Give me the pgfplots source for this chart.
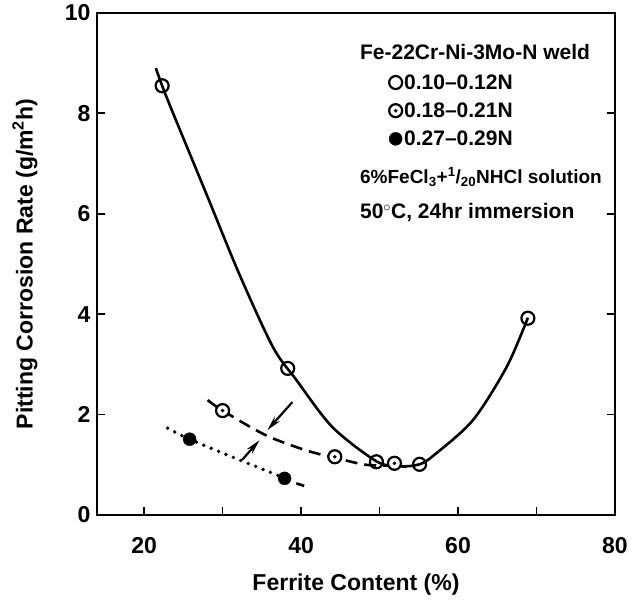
\documentclass[border=0pt]{standalone}
\usepackage{pgfplots}
\pgfplotsset{compat=1.18}
\usetikzlibrary{arrows.meta}
\usepackage{fontspec}
\setmainfont{Liberation Sans}
\pgfdeclareplotmark{odot}{%
  \pgfpathcircle{\pgfpointorigin}{\pgfplotmarksize}\pgfusepathqfillstroke
  \begin{pgfscope}%
  \pgfsetfillcolor{black}%
  \pgfpathcircle{\pgfpointorigin}{0.3\pgfplotmarksize}\pgfusepathqfill
  \end{pgfscope}}
\begin{document}
\bfseries
\begin{tikzpicture}
\begin{axis}[
  at={(0,0)}, anchor=south west,
  scale only axis, width=518pt, height=502pt,
  xmin=14, xmax=80, ymin=0, ymax=10,
  xtick={20,40,60,80}, minor xtick={30,50,70},
  ytick={0,2,4,6,8,10},
  xtick pos=bottom, ytick pos=both,
  tick align=inside,
  major tick length=8pt, minor tick length=8pt,
  every tick/.style={line width=1.8pt, black},
  axis line style={line width=2.4pt},
  /pgf/number format/assume math mode=true,
  tick label style={font=\fontsize{23}{27}\selectfont\bfseries},
  xticklabel style={yshift=-19pt},
  yticklabel style={xshift=-3pt},
  label style={font=\fontsize{23}{27}\selectfont\bfseries},
  xlabel={Ferrite Content (\%)},
  ylabel={Pitting Corrosion Rate (g/m$^{\mathbf{2}}$h)},
  xlabel style={at={(axis description cs:0.5,-0.138)}, anchor=center},
  ylabel style={at={(axis description cs:-0.139,0.5)}, anchor=center},
  legend style={draw=none, fill=none, at={(axis cs:51.2,8.82)}, anchor=north west,
    font=\fontsize{21}{25}\selectfont\bfseries, row sep=8pt, inner sep=0pt,
    /tikz/every even column/.append style={column sep=9pt}},
  legend cell align=left,
  clip=false,
]
% solid curve (0.10-0.12N)
\addplot[black, line width=2.6pt, smooth, forget plot] coordinates {
 (21.5,8.9) (23.0,8.27) (27.9,6.41) (32.1,4.81) (36.4,3.35)
 (39.4,2.69) (44.0,1.75) (49.6,1.07) (52.5,0.97) (55.1,1.01)
 (57.0,1.2) (61.9,1.89) (66.2,2.95) (68.9,3.93)};
% dashed curve (0.18-0.21N)
\addplot[black, line width=2.6pt, smooth, dash pattern=on 12pt off 7pt, forget plot] coordinates {
 (28.1,2.29) (30.0,2.08) (35.5,1.59) (40.6,1.29) (44.3,1.14) (48.3,1.0) (51.9,0.98) (53.4,0.96)};
% dotted curve (0.27-0.29N)
\addplot[black, line width=3.8pt, smooth, line cap=round, dash pattern=on 0pt off 8pt, forget plot] coordinates {
 (23.0,1.73) (25.8,1.51) (32.1,1.10) (36.4,0.83) (37.9,0.73)};
\addplot[black, line width=2.6pt, forget plot] coordinates {(39.4,0.63) (40.4,0.58)};
% arrows
\draw[line width=2.2pt, -{Stealth[length=15pt,width=7pt]}] (axis cs:38.9,2.25) -- (axis cs:35.7,1.69);
\draw[line width=2.2pt, -{Stealth[length=15pt,width=7pt]}] (axis cs:32.5,1.10) -- (axis cs:34.7,1.49);
% markers
\addplot[only marks, mark=o, mark size=6.5pt, mark options={line width=2.2pt, fill=white, draw=black}] coordinates {
 (22.3,8.55) (38.3,2.92) (49.6,1.06) (55.1,1.01) (68.9,3.92)};
\addlegendentry{0.10--0.12N}
\addplot[only marks, mark=odot, mark size=6.5pt, mark options={line width=2.2pt, fill=white, draw=black}] coordinates {
 (30.0,2.08) (44.3,1.16) (51.9,1.03)};
\addlegendentry{0.18--0.21N}
\addplot[only marks, mark=*, mark size=6.5pt, mark options={fill=black, draw=black}] coordinates {
 (25.8,1.51) (37.9,0.73)};
\addlegendentry{0.27--0.29N}
% annotations
\node[anchor=west, font=\fontsize{21}{25}\selectfont\bfseries, inner sep=0pt] at (axis cs:47.5,9.22) {Fe-22Cr-Ni-3Mo-N weld};
\node[anchor=west, font=\fontsize{19}{23}\selectfont\bfseries, inner sep=0pt] at (axis cs:47.5,6.73) {6\%FeCl\textsubscript{3}+\textsuperscript{1}/\textsubscript{20}NHCl solution};
\node[anchor=west, font=\fontsize{21}{25}\selectfont\bfseries, inner sep=0pt] at (axis cs:47.5,6.02) {50$^{\circ}$C, 24hr immersion};
\end{axis}
\pgfresetboundingbox
\path (-97pt,-86pt) rectangle (539pt,515pt);
\end{tikzpicture}
\end{document}
